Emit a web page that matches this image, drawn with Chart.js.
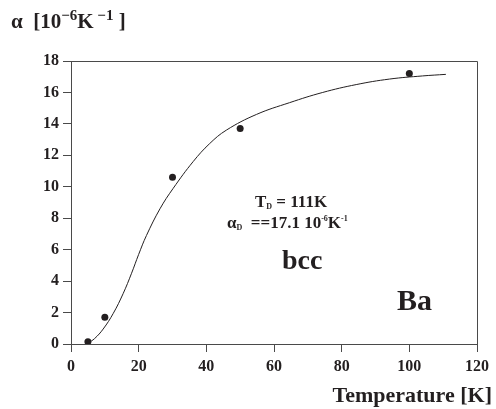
<!DOCTYPE html>
<html>
<head>
<meta charset="utf-8">
<script src="https://cdn.jsdelivr.net/npm/chart.js@4"></script>
<style>
  html, body { margin: 0; padding: 0; background: #fff; }
  #chart { display: block; }
</style>
</head>
<body>
<canvas id="chart" width="496" height="409"></canvas>
<script>
// measured points (Ba, bcc)
const pointTemps = [5, 10, 30, 50, 100];
const pointAlpha = [0.15, 1.7, 10.6, 13.7, 17.2];

// fitted curve
const curveTemps = [5, 7, 9.5, 12.5, 15.4, 17.9, 20, 22.3, 26.3, 30.2, 36.1, 41, 45.9, 54.8, 64.6, 74.4, 84.3, 94.1, 103.9, 110.8];
const curveAlpha = [0.05, 0.35, 0.95, 1.95, 3.2, 4.5, 5.7, 6.9, 8.6, 9.9, 11.6, 12.75, 13.6, 14.6, 15.35, 16.0, 16.5, 16.85, 17.05, 17.15];

const xTicks = [0, 20, 40, 60, 80, 100, 120];
const yTicks = [0, 2, 4, 6, 8, 10, 12, 14, 16, 18];

const INK = '#231f20';
const AXIS = '#4a4a4a';
const SERIF = '"Liberation Serif", "Times New Roman", serif';

const toXY = (xs, ys) => xs.map((x, i) => ({ x: x, y: ys[i] }));

// draws a run of text pieces: [text, size, dy]
function drawRun(ctx, x, y, parts) {
    let cx = x;
    parts.forEach(([text, size, dy]) => {
        ctx.font = 'bold ' + size + 'px ' + SERIF;
        ctx.fillText(text, cx, y + (dy || 0));
        cx += ctx.measureText(text).width;
    });
}

const textPlugin = {
    id: 'textPlugin',
    afterDraw(chart) {
        const ctx = chart.ctx;
        const a = chart.chartArea;
        ctx.save();

        // top and right border of the frame
        ctx.strokeStyle = AXIS;
        ctx.lineWidth = 1;
        ctx.beginPath();
        ctx.moveTo(a.left, a.top + 0.5);
        ctx.lineTo(a.right + 0.5, a.top + 0.5);
        ctx.lineTo(a.right + 0.5, a.bottom);
        ctx.stroke();

        ctx.fillStyle = INK;
        ctx.textBaseline = 'alphabetic';
        ctx.textAlign = 'left';

        // y axis label
        drawRun(ctx, 11, 28, [['α  [10', 21], ['−6', 15, -8], ['K', 21], [' −1', 15, -8], [' ]', 21]]);

        // annotations
        drawRun(ctx, 255, 207, [['T', 17], ['D', 8, 2], [' = 111K', 17]]);
        drawRun(ctx, 227, 228, [['α', 17], ['D', 8, 2], ['  ==17.1 10', 17], ['-6', 8, -7], ['K', 17], ['-1', 8, -7]]);

        ctx.font = 'bold 28px ' + SERIF;
        ctx.fillText('bcc', 282, 269);

        ctx.font = 'bold 30px ' + SERIF;
        ctx.fillText('Ba', 397, 310);

        // x axis label
        ctx.textAlign = 'right';
        ctx.font = 'bold 22px ' + SERIF;
        ctx.fillText('Temperature [K]', 492, 402);

        ctx.restore();
    }
};

new Chart(document.getElementById('chart'), {
    type: 'scatter',
    data: {
        datasets: [
            {
                label: 'fit',
                data: toXY(curveTemps, curveAlpha),
                showLine: true,
                borderColor: INK,
                borderWidth: 1,
                pointRadius: 0,
                tension: 0.4,
                fill: false
            },
            {
                label: 'Ba',
                data: toXY(pointTemps, pointAlpha),
                pointRadius: 3.5,
                pointBackgroundColor: INK,
                pointBorderColor: INK,
                pointBorderWidth: 0
            }
        ]
    },
    options: {
        responsive: false,
        animation: false,
        layout: {
            padding: { left: 0, right: 19, top: 61, bottom: 0 }
        },
        scales: {
            x: {
                type: 'linear',
                min: 0,
                max: 120,
                afterBuildTicks: (scale) => { scale.ticks = xTicks.map(v => ({ value: v })); },
                afterFit: (scale) => { scale.height = 65; },
                grid: {
                    drawOnChartArea: false,
                    tickLength: 8,
                    tickColor: AXIS
                },
                border: { color: AXIS, width: 1 },
                ticks: {
                    color: INK,
                    padding: 5,
                    font: { family: SERIF, size: 16, weight: 'bold' }
                }
            },
            y: {
                type: 'linear',
                min: 0,
                max: 18,
                afterBuildTicks: (scale) => { scale.ticks = yTicks.map(v => ({ value: v })); },
                afterFit: (scale) => { scale.width = 71; },
                grid: {
                    drawOnChartArea: false,
                    tickLength: 8,
                    tickColor: AXIS
                },
                border: { color: AXIS, width: 1 },
                ticks: {
                    color: INK,
                    padding: 4,
                    font: { family: SERIF, size: 16, weight: 'bold' }
                }
            }
        },
        plugins: {
            legend: { display: false },
            tooltip: { enabled: false }
        }
    },
    plugins: [textPlugin]
});
</script>
</body>
</html>
